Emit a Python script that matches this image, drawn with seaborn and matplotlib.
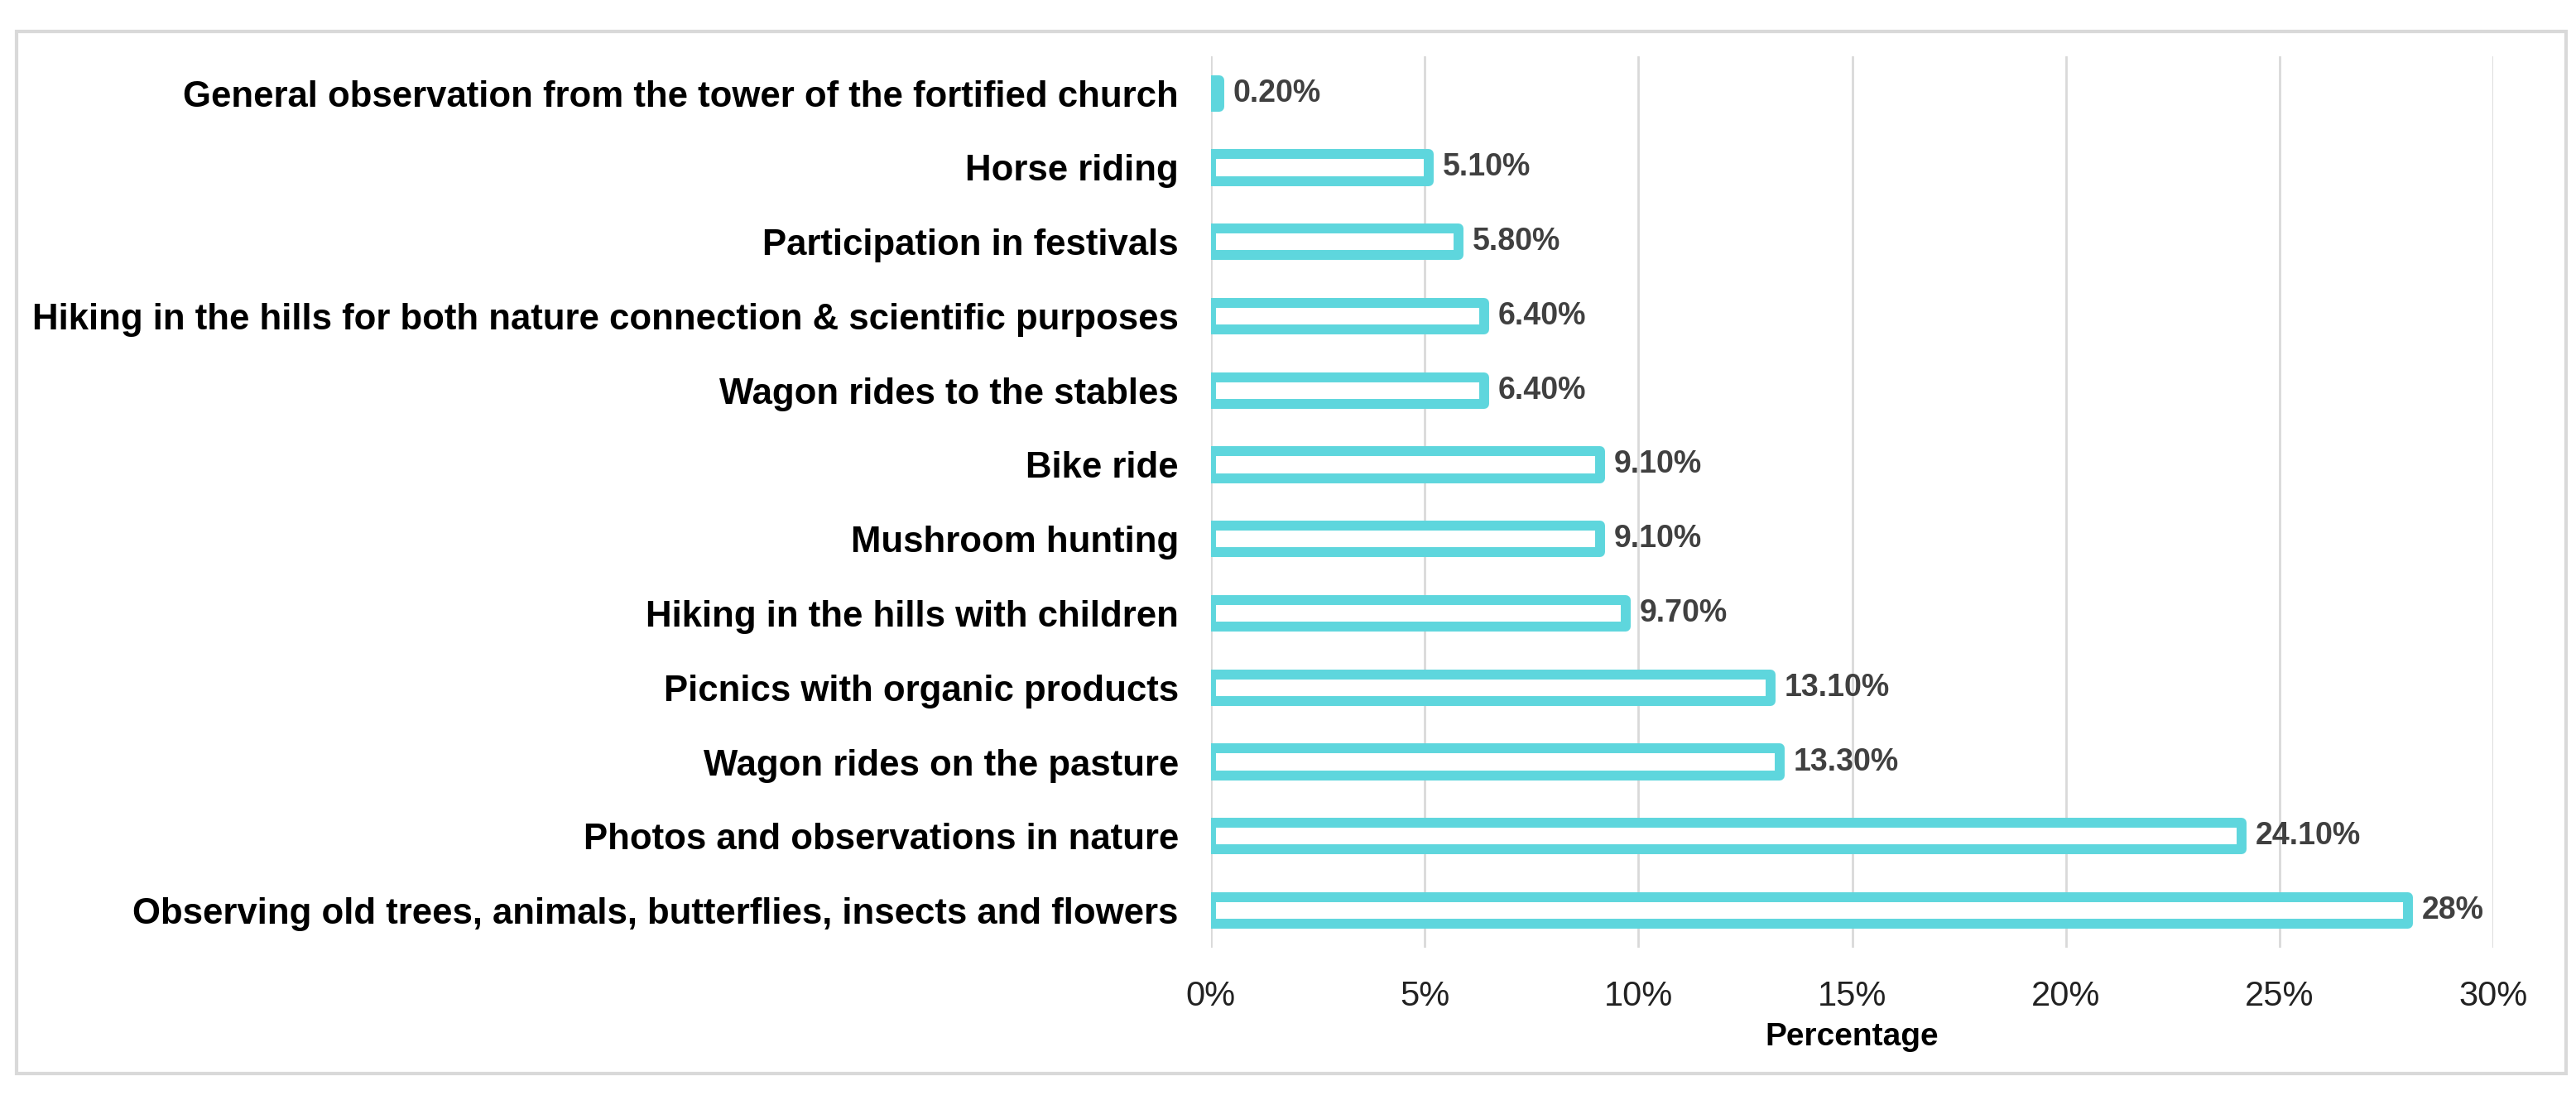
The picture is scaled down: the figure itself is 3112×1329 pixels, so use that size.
import matplotlib
matplotlib.use("Agg")
import matplotlib.pyplot as plt
import seaborn as sns
import pandas as pd
from matplotlib.patches import Rectangle
from matplotlib.ticker import FuncFormatter

activities = [
    "General observation from the tower of the fortified church",
    "Horse riding",
    "Participation in festivals",
    "Hiking in the hills for both nature connection & scientific purposes",
    "Wagon rides to the stables",
    "Bike ride",
    "Mushroom hunting",
    "Hiking in the hills with children",
    "Picnics with organic products",
    "Wagon rides on the pasture",
    "Photos and observations in nature",
    "Observing old trees, animals, butterflies, insects and flowers",
]
percentages = [0.2, 5.1, 5.8, 6.4, 6.4, 9.1, 9.1, 9.7, 13.1, 13.3, 24.1, 28.0]
value_labels = ["0.20%", "5.10%", "5.80%", "6.40%", "6.40%", "9.10%", "9.10%",
                "9.70%", "13.10%", "13.30%", "24.10%", "28%"]
x_ticks = [0, 5, 10, 15, 20, 25, 30]

sns.set_theme(style="white")
plt.rcParams["font.family"] = ["Liberation Sans", "DejaVu Sans"]

df = pd.DataFrame({"Activity": activities, "Percentage": percentages})

fig = plt.figure(figsize=(31.12, 13.29), dpi=100)
ax = fig.add_axes([0.470, 0.1385, 0.498, 0.8105])

cyan = "#5ED6DD"
sns.barplot(data=df, y="Activity", x="Percentage", orient="h", ax=ax,
            color="white", edgecolor=cyan, linewidth=8.6, width=0.36,
            saturation=1)
for p in ax.patches:
    p.set_joinstyle("round")

ax.set_xlim(0, 30)
ax.set_xticks(x_ticks)
ax.xaxis.set_major_formatter(FuncFormatter(lambda v, _: f"{v:.0f}%"))
ax.grid(axis="x", color="#d9d9d9", linewidth=2)
ax.set_axisbelow(True)
for s in ax.spines.values():
    s.set_visible(False)
ax.tick_params(axis="x", length=0, pad=28, labelsize=30, labelcolor="#222222")
ax.tick_params(axis="y", length=0, pad=28, labelsize=31.5)
for lab in ax.get_yticklabels():
    lab.set_fontweight("bold")
    lab.set_color("black")
ax.set_ylabel("")
ax.set_xlabel("Percentage", fontsize=28, fontweight="bold", color="black", labelpad=8)

for i, (v, t) in enumerate(zip(percentages, value_labels)):
    ax.annotate(t, xy=(v, i), xytext=(12, 0), textcoords="offset points",
                va="center", ha="left", fontsize=27, fontweight="bold", color="#404040")

fig.patches.append(Rectangle((20 / 3112, 1 - 1297 / 1329), 3080 / 3112, 1259 / 1329,
                             transform=fig.transFigure, fill=False,
                             edgecolor="#d9d9d9", linewidth=3))

fig.savefig("out.png", dpi=100, facecolor="white")
